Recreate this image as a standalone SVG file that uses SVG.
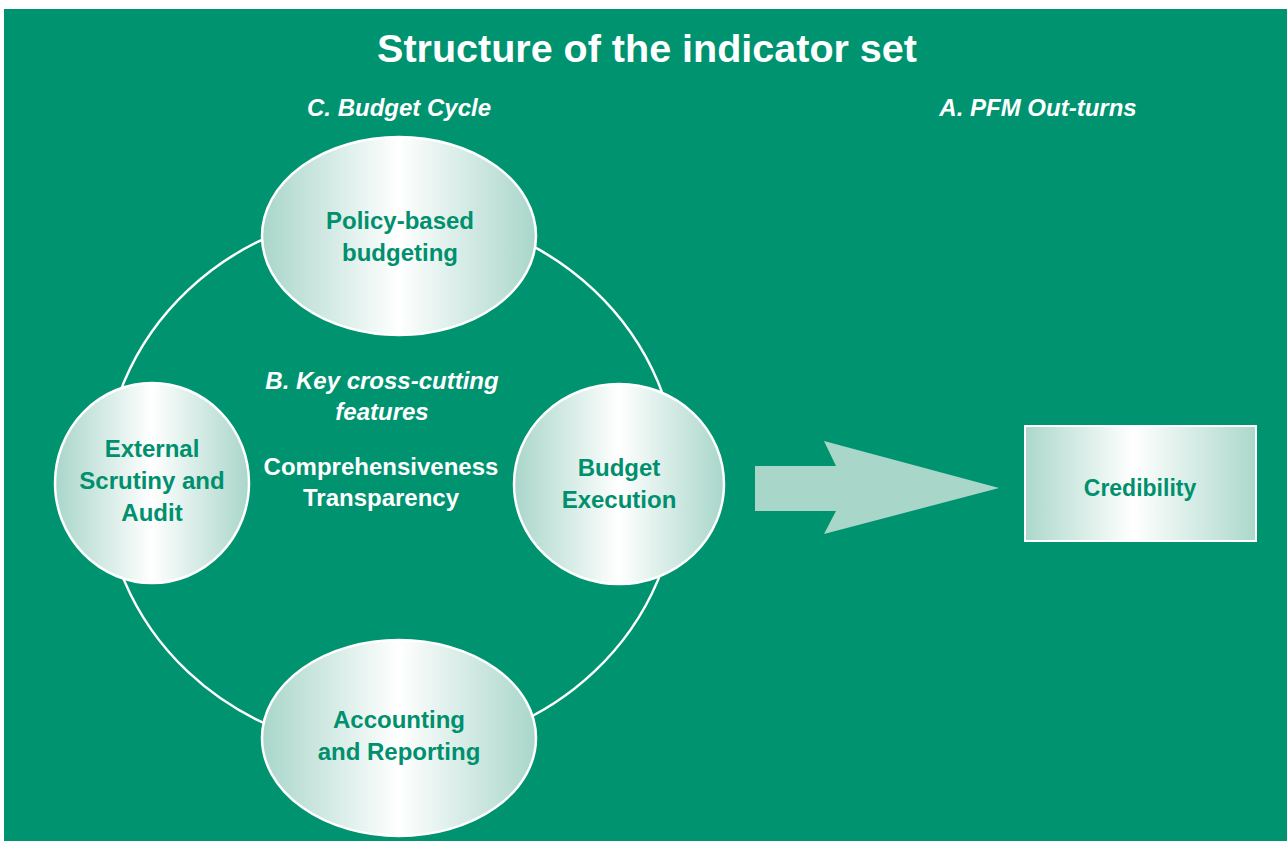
<svg xmlns="http://www.w3.org/2000/svg" width="1287" height="841" viewBox="0 0 1287 841">
  <defs>
    <linearGradient id="sheen" x1="0" y1="0" x2="1" y2="0">
      <stop offset="0" stop-color="#a9d6ca"/>
      <stop offset="0.5" stop-color="#ffffff"/>
      <stop offset="1" stop-color="#a9d6ca"/>
    </linearGradient>
    <linearGradient id="sheenBox" x1="0" y1="0" x2="1" y2="0">
      <stop offset="0" stop-color="#acd8cb"/>
      <stop offset="0.47" stop-color="#ffffff"/>
      <stop offset="1" stop-color="#acd8cb"/>
    </linearGradient>
    <style>
      .node { fill: url(#sheen); stroke: #ffffff; stroke-width: 2.5; }
      .label { font-family: "Liberation Sans", Arial, sans-serif; font-size: 24px; font-weight: bold; fill: #00906d; text-anchor: middle; }
      .head { font-family: "Liberation Sans", Arial, sans-serif; font-size: 24px; font-weight: bold; fill: #ffffff; text-anchor: middle; font-style: italic; }
      .plain { font-family: "Liberation Sans", Arial, sans-serif; font-size: 24px; font-weight: bold; fill: #ffffff; text-anchor: middle; }
    </style>
  </defs>

  <!-- background panel -->
  <rect x="0" y="0" width="1287" height="841" fill="#ffffff"/>
  <rect x="4" y="9" width="1283" height="832" fill="#009370"/>

  <text x="647" y="62" font-family="Liberation Sans, Arial, sans-serif" font-size="39.5" font-weight="bold" fill="#ffffff" text-anchor="middle">Structure of the indicator set</text>
  <text class="head" x="399" y="116">C. Budget Cycle</text>
  <text class="head" x="1038" y="116">A. PFM Out-turns</text>

  <!-- connectors: the budget cycle ring and the out-turn arrow -->
  <g id="connectors">
    <ellipse cx="391" cy="481" rx="287" ry="270" fill="none" stroke="#ffffff" stroke-width="2.5"/>
    <polygon points="755,466 836,466 824,441 999,488 824,534 836,511 755,511" fill="#a8d7c9"/>
  </g>

  <g id="policy">
    <ellipse class="node" cx="399" cy="236" rx="137" ry="99"/>
    <text class="label" x="400" y="229">Policy-based</text>
    <text class="label" x="400" y="261">budgeting</text>
  </g>

  <g id="external">
    <ellipse class="node" cx="152" cy="483" rx="97" ry="100"/>
    <text class="label" x="152" y="457">External</text>
    <text class="label" x="152" y="489">Scrutiny and</text>
    <text class="label" x="152" y="521">Audit</text>
  </g>

  <g id="execution">
    <ellipse class="node" cx="619" cy="484" rx="105" ry="100"/>
    <text class="label" x="619" y="476">Budget</text>
    <text class="label" x="619" y="508">Execution</text>
  </g>

  <g id="accounting">
    <ellipse class="node" cx="399" cy="738" rx="137" ry="98"/>
    <text class="label" x="399" y="728">Accounting</text>
    <text class="label" x="399" y="760">and Reporting</text>
  </g>

  <g id="crosscutting">
    <text class="head" x="382" y="389">B. Key cross-cutting</text>
    <text class="head" x="382" y="420">features</text>
    <text class="plain" x="381" y="475">Comprehensiveness</text>
    <text class="plain" x="381" y="506">Transparency</text>
  </g>

  <g id="credibility">
    <rect x="1025" y="426" width="231" height="115" fill="url(#sheenBox)" stroke="#ffffff" stroke-width="2"/>
    <text class="label" x="1140" y="496" style="font-size:23px">Credibility</text>
  </g>
</svg>
